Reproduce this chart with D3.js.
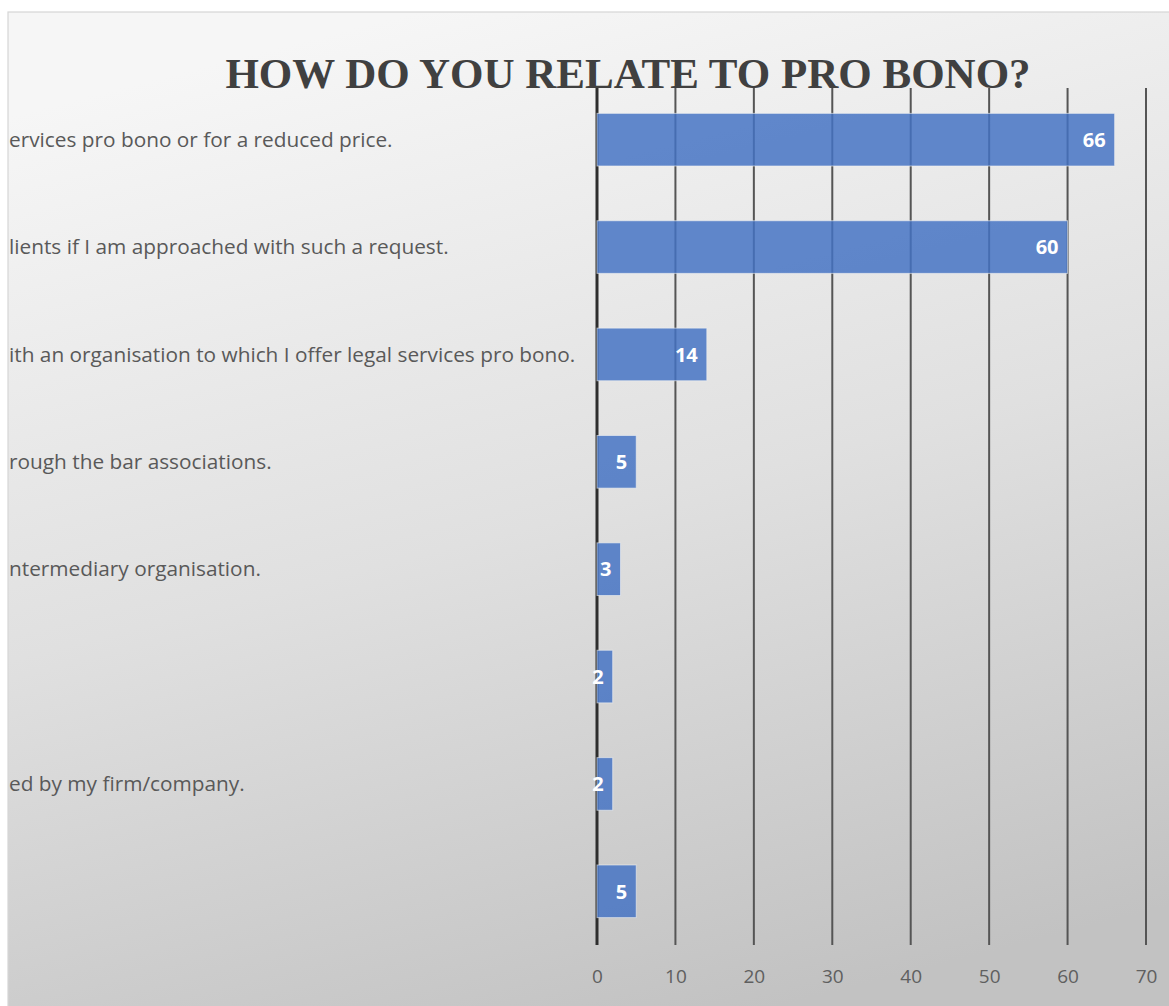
<!DOCTYPE html>
<html>
<head>
<meta charset="utf-8">
<script src="https://cdn.jsdelivr.net/npm/d3@7"></script>
<style>
  html, body { margin: 0; padding: 0; background: #ffffff; }
  svg { display: block; }
</style>
</head>
<body>
<svg id="chart" width="1169" height="1006"></svg>
<script>
// Survey answers (category axis text, as visible in the chart frame)
const categories = [
  "ervices pro bono or for a reduced price.",
  "lients if I am approached with such a request.",
  "ith an organisation to which I offer legal services pro bono.",
  "rough the bar associations.",
  "ntermediary organisation.",
  "",
  "ed by my firm/company.",
  ""
];
// Number of respondents per answer
const values = [66, 60, 14, 5, 3, 2, 2, 5];
// Value axis ticks
const tickValues = [0, 10, 20, 30, 40, 50, 60, 70];
const title = "HOW DO YOU RELATE TO PRO BONO?";

const W = 1169, H = 1006;
const frame = { x: 8, y: 12 };
const plot = { left: 597, right: 1146, top: 88, bottom: 945 };

const svg = d3.select("#chart");
const defs = svg.append("defs");

// Soft grey gradient behind the chart
const grad = defs.append("linearGradient")
  .attr("id", "bg")
  .attr("x1", "0.35").attr("y1", "0")
  .attr("x2", "0.65").attr("y2", "1");
grad.append("stop").attr("offset", "0").attr("stop-color", "#f6f6f6");
grad.append("stop").attr("offset", "0.5").attr("stop-color", "#e0e0e0");
grad.append("stop").attr("offset", "1").attr("stop-color", "#c2c2c2");

defs.append("clipPath").attr("id", "frameClip")
  .append("rect")
  .attr("x", frame.x + 1).attr("y", frame.y)
  .attr("width", W - frame.x).attr("height", H - frame.y);

svg.append("rect")
  .attr("x", frame.x).attr("y", frame.y)
  .attr("width", W - frame.x + 4).attr("height", H - frame.y + 4)
  .attr("fill", "url(#bg)")
  .attr("stroke", "#d6d6d6")
  .attr("stroke-width", 1.2);

const x = d3.scaleLinear().domain([0, 70]).range([plot.left, plot.right]);
const y = d3.scaleBand()
  .domain(d3.range(categories.length))
  .range([plot.top - 2, plot.bottom])
  .paddingInner(0.51)
  .paddingOuter(0.255);

const g = svg.append("g").attr("clip-path", "url(#frameClip)");

// Title
g.append("text")
  .attr("x", 628).attr("y", 88)
  .attr("text-anchor", "middle")
  .attr("font-family", "'Liberation Serif', 'Times New Roman', serif")
  .attr("font-weight", "bold")
  .attr("font-size", 43)
  .attr("fill", "#404040")
  .text(title);

// Vertical gridlines
g.append("g")
  .selectAll("line")
  .data(tickValues)
  .join("line")
  .attr("x1", d => x(d)).attr("x2", d => x(d))
  .attr("y1", plot.top).attr("y2", plot.bottom)
  .attr("stroke", d => d === 0 ? "#2e2e2e" : "#555555")
  .attr("stroke-width", d => d === 0 ? 3 : 2);

// Value axis tick labels
const axis = d3.axisBottom(x).tickValues(tickValues).tickSize(0).tickPadding(0);
const ax = g.append("g")
  .attr("transform", `translate(0, ${plot.bottom + 38})`)
  .call(axis);
ax.select(".domain").remove();
ax.selectAll("text")
  .attr("dy", 0)
  .attr("font-family", "'Open Sans', 'Noto Sans', sans-serif")
  .attr("font-size", 19)
  .attr("fill", "#5f5f5f");

// Category labels, left-aligned at the frame edge
g.append("g")
  .selectAll("text")
  .data(categories)
  .join("text")
  .attr("x", frame.x + 1)
  .attr("y", (d, i) => y(i) + y.bandwidth() / 2)
  .attr("dy", "0.35em")
  .attr("font-family", "'Open Sans', 'Noto Sans', sans-serif")
  .attr("font-size", 20.8)
  .attr("fill", "#595959")
  .text(d => d);

// Bars
g.append("g")
  .selectAll("rect")
  .data(values)
  .join("rect")
  .attr("x", x(0))
  .attr("y", (d, i) => y(i))
  .attr("width", d => x(d) - x(0))
  .attr("height", y.bandwidth())
  .attr("fill", "#4472c4")
  .attr("fill-opacity", 0.84)
  .attr("stroke", "#f2f2f2")
  .attr("stroke-opacity", 0.6)
  .attr("stroke-width", 1);

// Value labels inside the bar ends
g.append("g")
  .selectAll("text")
  .data(values)
  .join("text")
  .attr("x", d => x(d) - 9)
  .attr("y", (d, i) => y(i) + y.bandwidth() / 2)
  .attr("dy", "0.36em")
  .attr("text-anchor", "end")
  .attr("font-family", "'Open Sans', 'Noto Sans', sans-serif")
  .attr("font-weight", "bold")
  .attr("font-size", 20)
  .attr("fill", "#ffffff")
  .text(d => d);
</script>
</body>
</html>
